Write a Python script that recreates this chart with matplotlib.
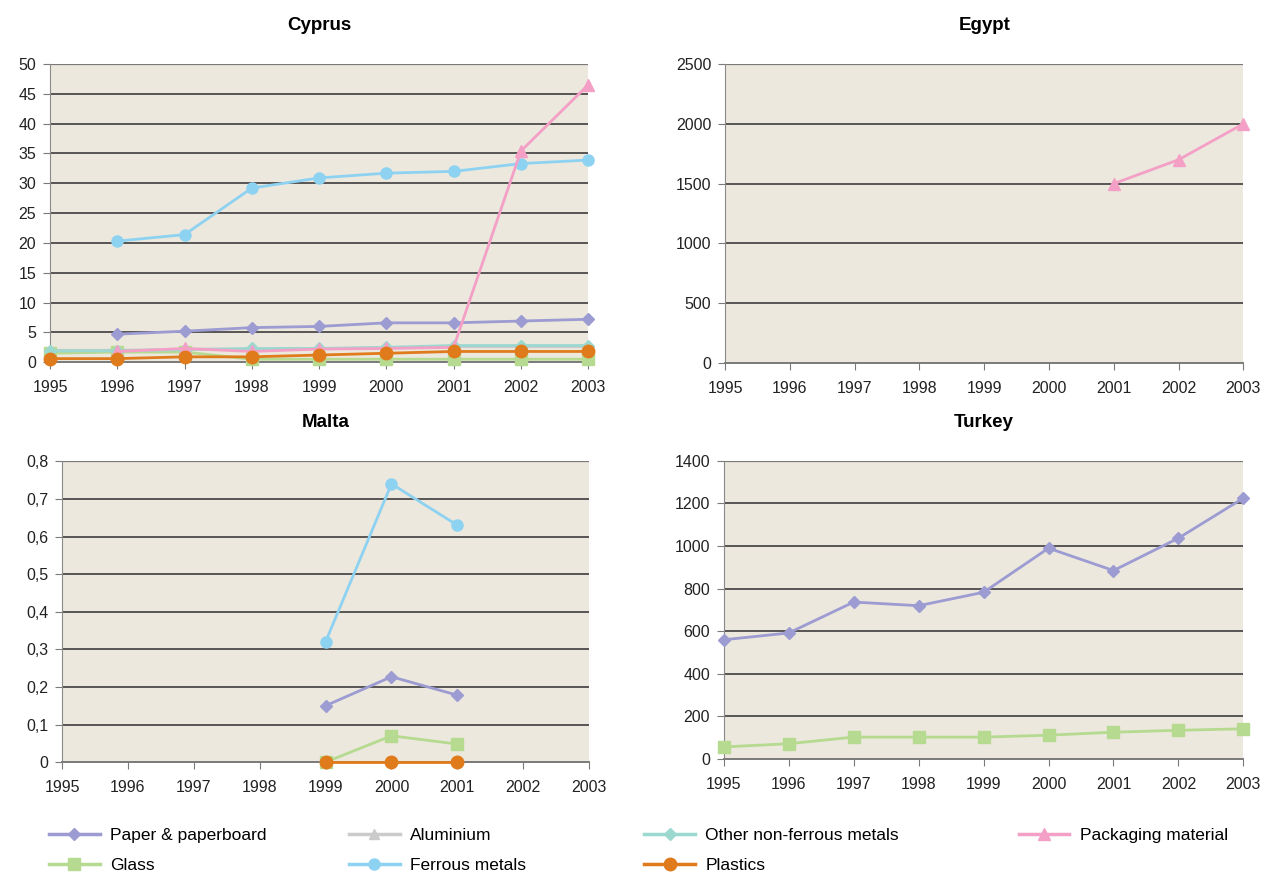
import numpy as np
import matplotlib
matplotlib.use("Agg")
import matplotlib.pyplot as plt
from matplotlib.lines import Line2D

plt.rcParams['font.family'] = ['Liberation Sans', 'DejaVu Sans']

nan = np.nan
years = [1995, 1996, 1997, 1998, 1999, 2000, 2001, 2002, 2003]
year_labels = [str(y) for y in years]

# Cyprus (thousand tonnes)
cy_paper = [nan, 4.7, 5.2, 5.8, 6.0, 6.6, 6.6, 6.9, 7.2]
cy_aluminium = [2.0, 2.0, 2.2, 2.2, 2.3, 2.4, 2.6, 2.6, 2.6]
cy_other = [1.9, 1.9, 2.1, 2.3, 2.3, 2.5, 2.8, 2.8, 2.8]
cy_packaging = [nan, 1.8, 2.3, 1.8, 2.2, 2.3, 2.5, 35.4, 46.5]
cy_glass = [1.5, 1.7, 1.7, 0.5, 0.5, 0.5, 0.5, 0.5, 0.5]
cy_ferrous = [nan, 20.3, 21.4, 29.2, 30.9, 31.7, 32.0, 33.3, 33.9]
cy_plastics = [0.6, 0.6, 0.9, 0.9, 1.2, 1.5, 1.8, 1.8, 1.8]

# Egypt
eg_packaging = [nan, nan, nan, nan, nan, nan, 1500, 1700, 2000]

# Malta
mt_ferrous = [nan, nan, nan, nan, 0.32, 0.74, 0.63, nan, nan]
mt_paper = [nan, nan, nan, nan, 0.15, 0.227, 0.178, nan, nan]
mt_glass = [nan, nan, nan, nan, 0.0, 0.07, 0.048, nan, nan]
mt_plastics = [nan, nan, nan, nan, 0.0, 0.0, 0.0, nan, nan]

# Turkey
tr_paper = [560, 592, 737, 720, 783, 990, 885, 1037, 1225]
tr_glass = [57, 72, 103, 103, 103, 112, 126, 135, 142]

# y axes
cy_yticks = [0, 5, 10, 15, 20, 25, 30, 35, 40, 45, 50]
eg_yticks = [0, 500, 1000, 1500, 2000, 2500]
mt_yticks = [0, 0.1, 0.2, 0.3, 0.4, 0.5, 0.6, 0.7, 0.8]
mt_ylabels = ['0', '0,1', '0,2', '0,3', '0,4', '0,5', '0,6', '0,7', '0,8']
tr_yticks = [0, 200, 400, 600, 800, 1000, 1200, 1400]

styles = {
    'Paper & paperboard': dict(color='#9c9bd2', marker='D', ms=6),
    'Aluminium': dict(color='#cbcbcb', marker='^', ms=7),
    'Other non-ferrous metals': dict(color='#9bd8d0', marker='D', ms=6),
    'Packaging material': dict(color='#f4a0c6', marker='^', ms=8),
    'Glass': dict(color='#b6da90', marker='s', ms=8),
    'Ferrous metals': dict(color='#8ed2f2', marker='o', ms=8),
    'Plastics': dict(color='#e07b1c', marker='o', ms=9),
}

BG = '#ece8de'
fig = plt.figure(figsize=(12.61, 8.77), dpi=100)


def make_ax(rect, title, yticks, ylabels=None):
    ax = fig.add_axes(rect)
    ax.set_facecolor(BG)
    ax.set_xlim(years[0], years[-1])
    ax.set_ylim(yticks[0], yticks[-1])
    ax.set_xticks(years)
    ax.set_xticklabels(year_labels, fontsize=11.5)
    ax.set_yticks(yticks)
    ax.set_yticklabels(ylabels if ylabels else [str(t) for t in yticks], fontsize=11.5)
    for t in yticks[1:-1]:
        ax.axhline(t, color='#2e2e2e', lw=1.1, zorder=1)
    ax.axhline(yticks[-1], color='#7a7a7a', lw=1.6, zorder=1)
    for s in ['top', 'right']:
        ax.spines[s].set_visible(False)
    ax.spines['left'].set_color('#8a8a8a')
    ax.spines['bottom'].set_color('#7a7a7a')
    ax.spines['bottom'].set_linewidth(1.4)
    ax.tick_params(axis='both', direction='out', length=5, color='#7a7a7a',
                   pad=5, labelcolor='#222222')
    ax.tick_params(axis='x', pad=8)
    ax.set_title(title, fontsize=13.5, fontweight='bold', pad=24.5)
    return ax


def draw(ax, name, values):
    st = styles[name]
    ax.plot(years, values, color=st['color'], lw=2, marker=st['marker'],
            ms=st['ms'], mec=st['color'], mfc=st['color'], zorder=3, clip_on=False)


ax1 = make_ax([0.0397, 0.587, 0.4267, 0.340], 'Cyprus', cy_yticks)
draw(ax1, 'Aluminium', cy_aluminium)
draw(ax1, 'Glass', cy_glass)
draw(ax1, 'Other non-ferrous metals', cy_other)
draw(ax1, 'Paper & paperboard', cy_paper)
draw(ax1, 'Ferrous metals', cy_ferrous)
draw(ax1, 'Packaging material', cy_packaging)
draw(ax1, 'Plastics', cy_plastics)

ax2 = make_ax([0.575, 0.586, 0.411, 0.341], 'Egypt', eg_yticks)
draw(ax2, 'Packaging material', eg_packaging)

ax3 = make_ax([0.0492, 0.131, 0.418, 0.343], 'Malta', mt_yticks, mt_ylabels)
draw(ax3, 'Ferrous metals', mt_ferrous)
draw(ax3, 'Paper & paperboard', mt_paper)
draw(ax3, 'Glass', mt_glass)
draw(ax3, 'Plastics', mt_plastics)

ax4 = make_ax([0.574, 0.1345, 0.412, 0.340], 'Turkey', tr_yticks)
draw(ax4, 'Paper & paperboard', tr_paper)
draw(ax4, 'Glass', tr_glass)

# Legend: four columns placed along the bottom
columns = [
    (['Paper & paperboard', 'Glass'], 0.039),
    (['Aluminium', 'Ferrous metals'], 0.277),
    (['Other non-ferrous metals', 'Plastics'], 0.511),
    (['Packaging material'], 0.808),
]
for names, x in columns:
    handles = [Line2D([], [], color=styles[n]['color'], lw=2.5, marker=styles[n]['marker'],
                      ms=styles[n]['ms'], mec=styles[n]['color'], mfc=styles[n]['color'])
               for n in names]
    fig.legend(handles, names, loc='upper left', bbox_to_anchor=(x, 0.0565),
               frameon=False, fontsize=12.5, handlelength=2.9, handletextpad=0.6,
               labelspacing=0.9, borderaxespad=0, borderpad=0)

fig.savefig('out.png', dpi=100, facecolor='white')
